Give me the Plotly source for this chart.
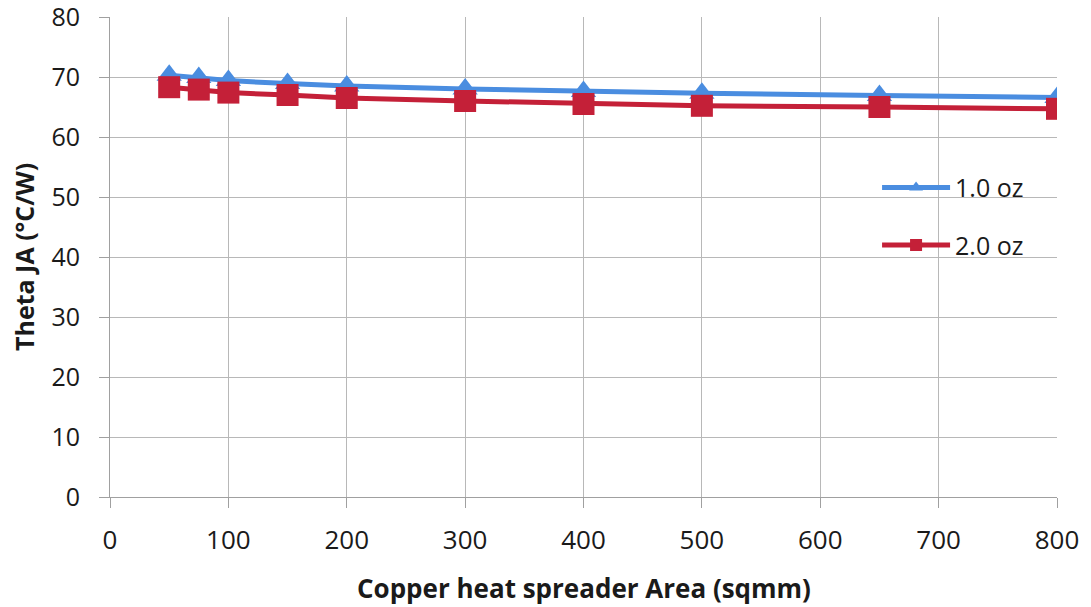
import plotly.graph_objects as go

area = [50, 75, 100, 150, 200, 300, 400, 500, 650, 800]
oz1 = [70.3, 69.9, 69.4, 68.9, 68.5, 68.0, 67.6, 67.3, 66.9, 66.6]
oz2 = [68.3, 67.9, 67.4, 67.0, 66.5, 66.0, 65.5, 65.2, 65.0, 64.7]

x_ticks = [0, 100, 200, 300, 400, 500, 600, 700, 800]
y_ticks = [0, 10, 20, 30, 40, 50, 60, 70, 80]

blue = "#4a8de0"
red = "#c42038"

fig = go.Figure()
fig.add_trace(go.Scatter(x=area, y=oz1, name="1.0 oz", mode="lines+markers",
                         line=dict(color=blue, width=5),
                         marker=dict(symbol="triangle-up", size=22, color=blue),
                         legendgroup="a"))
fig.add_trace(go.Scatter(x=area, y=oz2, name="2.0 oz", mode="lines+markers",
                         line=dict(color=red, width=5),
                         marker=dict(symbol="square", size=22, color=red),
                         legendgroup="b"))

fam = "Open Sans, Liberation Sans, sans-serif"
fig.update_layout(
    width=1091, height=607,
    margin=dict(l=110, r=34, t=17, b=110, autoexpand=False),
    paper_bgcolor="white", plot_bgcolor="white",
    font=dict(family=fam, size=20, color="#1a1a1a"),
    showlegend=True,
    legend=dict(x=0.81, y=0.692, xanchor="left", yanchor="top",
                bgcolor="rgba(0,0,0,0)", tracegroupgap=22,
                traceorder="grouped", itemsizing="constant", itemwidth=68,
                font=dict(size=25, color="#1a1a1a")),
    xaxis=dict(range=[0, 800], tickvals=x_ticks, showgrid=True,
               gridcolor="#b8b8b8", gridwidth=1, showline=True,
               linecolor="#a0a0a0", linewidth=1, ticks="outside",
               ticklen=10, tickcolor="#a0a0a0", zeroline=False,
               ticklabelstandoff=10, ticklabeloverflow="allow",
               automargin=False, tickfont=dict(size=26)),
    yaxis=dict(range=[0, 80], tickvals=y_ticks, showgrid=True,
               gridcolor="#b8b8b8", gridwidth=1, showline=True,
               linecolor="#a0a0a0", linewidth=1, ticks="outside",
               ticklen=10, tickcolor="#a0a0a0", zeroline=False,
               ticklabelstandoff=14, ticklabeloverflow="allow",
               automargin=False, tickfont=dict(size=25)),
    annotations=[
        dict(text="<b>Copper heat spreader Area (sqmm)</b>", xref="paper", yref="paper",
             x=0.5, y=-0.189, showarrow=False, font=dict(size=26),
             xanchor="center", yanchor="middle"),
        dict(text="<b>Theta JA (°C/W)</b>", xref="paper", yref="paper",
             x=-0.0908, y=0.5, showarrow=False, font=dict(size=25), textangle=-90,
             xanchor="center", yanchor="middle"),
    ],
)

fig.write_html("out.html", config={"displayModeBar": False},
               post_script="document.body.style.margin='0px';")
